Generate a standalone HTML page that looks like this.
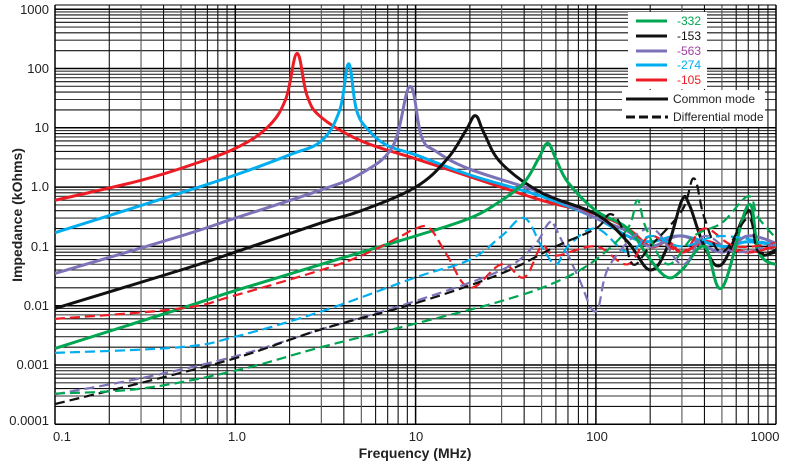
<!DOCTYPE html><html><head><style>body{margin:0;background:#fff}svg{display:block;font-family:"Liberation Sans",Arial,sans-serif}</style></head><body>
<svg id="s" width="786" height="466" xmlns="http://www.w3.org/2000/svg">
<defs><clipPath id="cp"><rect x="55" y="5" width="721" height="420"/></clipPath></defs>
<g id="grid"></g><g id="curves" clip-path="url(#cp)"></g>
<g font-size="13" fill="#222" text-anchor="end">
<text x="49" y="14">1000</text><text x="49" y="73">100</text><text x="49" y="132">10</text><text x="49" y="191">1.0</text><text x="49" y="251">0.1</text><text x="49" y="310">0.01</text><text x="49" y="369">0.001</text><text x="49" y="425">0.0001</text></g>
<g font-size="13" fill="#222" text-anchor="middle">
<text x="62" y="441">0.1</text><text x="237" y="441">1.0</text><text x="416" y="441">10</text><text x="597" y="441">100</text><text x="765" y="441">1000</text></g>
<text x="415" y="458" font-size="14" font-weight="bold" text-anchor="middle" fill="#222">Frequency (MHz)</text>
<text transform="translate(22,215) rotate(-90)" font-size="14" font-weight="bold" text-anchor="middle" fill="#222">Impedance (kOhms)</text>
<rect x="628" y="12" width="79" height="77" fill="#fff"/>
<rect x="622" y="90" width="143" height="37" fill="#fff"/>
<g stroke-width="3">
<line x1="636" y1="21" x2="667" y2="21" stroke="#00a651"/>
<line x1="636" y1="36" x2="667" y2="36" stroke="#111"/>
<line x1="636" y1="51" x2="667" y2="51" stroke="#7b72b8"/>
<line x1="636" y1="65" x2="667" y2="65" stroke="#00aeef"/>
<line x1="636" y1="80" x2="667" y2="80" stroke="#ed1c24"/>
<line x1="626" y1="99" x2="668" y2="99" stroke="#111"/>
<line x1="626" y1="117" x2="668" y2="117" stroke="#111" stroke-dasharray="9,4"/>
</g>
<g font-size="12">
<text x="677" y="25" fill="#00a651">-332</text><text x="677" y="40" fill="#111">-153</text><text x="677" y="55" fill="#a040a0">-563</text><text x="677" y="69" fill="#00aeef">-274</text><text x="677" y="84" fill="#ed1c24">-105</text>
<text x="673" y="103" fill="#222">Common mode</text><text x="673" y="121" fill="#222">Differential mode</text></g>
</svg>
<script>
var X0=55,DX=180.3,Y0=424.3,DY=59.3;
function px(f){return X0+(Math.log10(f)+1)*DX}
function py(z){return Y0-(Math.log10(z)+4)*DY}
var g='';
for(var d=-4;d<3;d++)for(var k=1;k<10;k++){var y=py(k*Math.pow(10,d));g+='<line x1="55" x2="776" y1="'+y+'" y2="'+y+'" stroke="'+(k==1?'#000':(k%2?'#333':'#111'))+'" stroke-width="'+(k==1?1.5:1.1)+'"/>';}
var y=py(1000);g+='<line x1="55" x2="776" y1="'+y+'" y2="'+y+'" stroke="#000" stroke-width="1.5"/>';
for(var d=-1;d<3;d++)for(var k=1;k<10;k++){var x=px(k*Math.pow(10,d));g+='<line y1="5" y2="424.3" x1="'+x+'" x2="'+x+'" stroke="'+(k==1?'#000':(k==3||k==5?'#555':'#111'))+'" stroke-width="'+(k==1?1.5:1.1)+'"/>';}
g+='<line y1="5" y2="424.3" x1="776" x2="776" stroke="#000" stroke-width="1.5"/>';
g+='<line x1="55" x2="776" y1="5" y2="5" stroke="#000"/>';
document.getElementById('grid').innerHTML=g;
var C={g:'#00a651',k:'#111',p:'#7b72b8',c:'#00aeef',r:'#ed1c24'};
var S=[
['r',0,[[0.1,0.6],[0.3,1.3],[0.6,2.5],[1,4.5],[1.5,10],[1.9,30],[2.2,180],[2.5,35],[3,15],[5,6],[10,3],[20,1.5],[50,0.6],[100,0.35],[150,0.2],[200,0.1],[250,0.12],[300,0.08],[400,0.12],[500,0.1],[700,0.08],[1000,0.1],[1100,0.09]]],
['c',0,[[0.1,0.17],[0.5,0.8],[1,1.6],[2,3.5],[3,6],[3.8,20],[4.25,120],[4.7,20],[5.5,9],[7,5],[10,3.5],[20,1.6],[50,0.7],[100,0.3],[150,0.15],[200,0.12],[300,0.15],[500,0.1],[700,0.12],[1100,0.1]]],
['p',0,[[0.1,0.035],[0.5,0.15],[1,0.3],[3,0.9],[5,1.7],[7.5,5],[9.3,50],[10.8,7],[13,4],[20,2],[50,0.8],[100,0.3],[150,0.18],[200,0.1],[300,0.15],[500,0.08],[700,0.15],[1100,0.1]]],
['k',0,[[0.1,0.009],[0.5,0.04],[1,0.08],[3,0.25],[5,0.4],[10,1],[15,3],[19,9],[21.5,16],[24,8],[30,2.5],[50,0.8],[100,0.35],[150,0.12],[200,0.04],[250,0.1],[300,0.6],[330,0.5],[400,0.1],[500,0.05],[700,0.4],[800,0.08],[1000,0.08],[1100,0.07]]],
['g',0,[[0.1,0.0019],[0.5,0.009],[1,0.018],[3,0.05],[10,0.15],[20,0.3],[30,0.6],[40,1.2],[48,3],[54,5.5],[60,3],[70,1.2],[100,0.4],[150,0.2],[200,0.06],[250,0.03],[300,0.04],[400,0.1],[500,0.02],[700,0.5],[800,0.08],[1000,0.05],[1100,0.07]]],
['r',1,[[0.1,0.006],[0.5,0.009],[1,0.015],[3,0.04],[5,0.07],[8,0.14],[10,0.2],[12,0.2],[15,0.07],[20,0.02],[30,0.05],[40,0.03],[50,0.1],[60,0.07],[100,0.1],[150,0.05],[200,0.15],[300,0.08],[400,0.2],[600,0.1],[1100,0.12]]],
['c',1,[[0.1,0.0016],[0.5,0.002],[1,0.003],[3,0.008],[10,0.03],[20,0.06],[30,0.15],[40,0.3],[50,0.1],[60,0.05],[70,0.1],[100,0.2],[150,0.08],[200,0.15],[300,0.1],[500,0.15],[1100,0.1]]],
['p',1,[[0.1,0.00032],[0.3,0.0006],[1,0.0014],[3,0.004],[10,0.012],[30,0.04],[45,0.1],[55,0.25],[60,0.2],[80,0.03],[100,0.008],[120,0.05],[200,0.2],[300,0.05],[400,0.15],[600,0.08],[1100,0.12]]],
['k',1,[[0.1,0.00022],[0.3,0.0005],[1,0.0013],[3,0.004],[10,0.011],[30,0.035],[60,0.1],[100,0.2],[120,0.35],[140,0.2],[160,0.05],[200,0.1],[300,0.4],[350,1.4],[400,0.3],[500,0.08],[700,0.3],[800,0.08],[1100,0.1]]],
['g',1,[[0.1,0.00033],[0.3,0.0004],[1,0.0008],[3,0.002],[10,0.005],[30,0.012],[60,0.025],[100,0.06],[150,0.2],[170,0.6],[190,0.2],[250,0.05],[350,0.15],[500,0.25],[700,0.7],[800,0.3],[1100,0.1]]]
];
function path(P){var d='M'+P[0][0].toFixed(1)+','+P[0][1].toFixed(1);
for(var i=0;i<P.length-1;i++){var p0=P[i>0?i-1:0],p1=P[i],p2=P[i+1],p3=P[i+2<P.length?i+2:i+1];
var t=0.18;var c1=[p1[0]+(p2[0]-p0[0])*t,p1[1]+(p2[1]-p0[1])*t],c2=[p2[0]-(p3[0]-p1[0])*t,p2[1]-(p3[1]-p1[1])*t];
d+=' C'+c1[0].toFixed(1)+','+c1[1].toFixed(1)+' '+c2[0].toFixed(1)+','+c2[1].toFixed(1)+' '+p2[0].toFixed(1)+','+p2[1].toFixed(1);}return d;}
var h='';S.forEach(function(s){var P=s[2].map(function(p){return [px(p[0]),py(p[1])]});
h+='<path fill="none" stroke="'+C[s[0]]+'" stroke-width="'+(s[1]?2.2:3)+'" stroke-linejoin="round" '+(s[1]?'stroke-dasharray="10,5" ':'')+'d="'+path(P)+'"/>';});
document.getElementById('curves').innerHTML=h;
</script></body></html>
